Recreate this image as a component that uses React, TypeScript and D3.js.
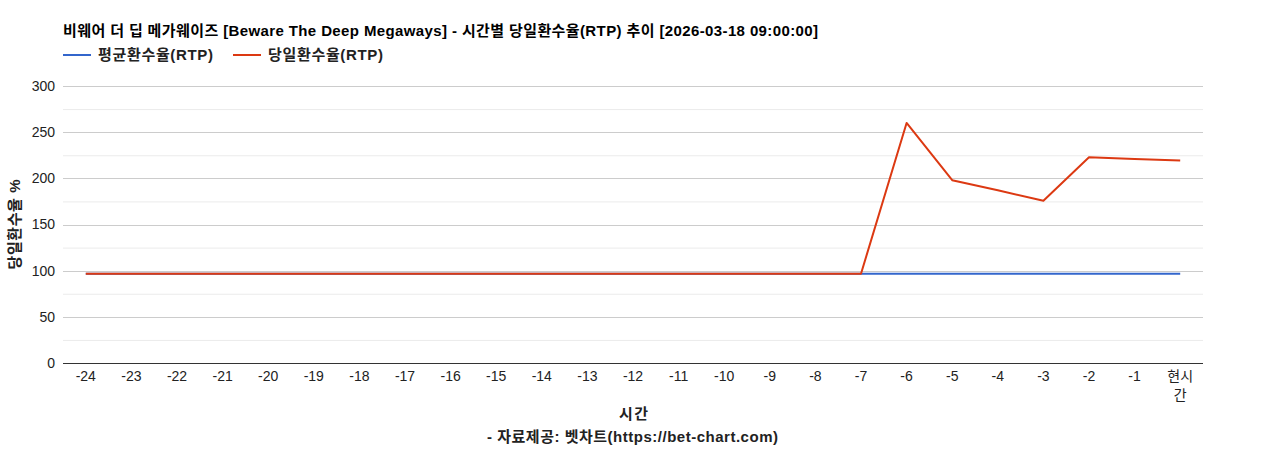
import React, { useEffect, useRef } from 'react';
import * as d3 from 'd3';

const title = '비웨어 더 딥 메가웨이즈 [Beware The Deep Megaways] - 시간별 당일환수율(RTP) 추이 [2026-03-18 09:00:00]';
const hours = [
  '-24', '-23', '-22', '-21', '-20', '-19', '-18', '-17', '-16', '-15', '-14', '-13',
  '-12', '-11', '-10', '-9', '-8', '-7', '-6', '-5', '-4', '-3', '-2', '-1', '현시간',
];
const avgRtp = [
  96.7, 96.7, 96.7, 96.7, 96.7, 96.7, 96.7, 96.7, 96.7, 96.7, 96.7, 96.7,
  96.7, 96.7, 96.7, 96.7, 96.7, 96.7, 96.7, 96.7, 96.7, 96.7, 96.7, 96.7, 96.7,
];
const dailyRtp = [
  96.7, 96.7, 96.7, 96.7, 96.7, 96.7, 96.7, 96.7, 96.7, 96.7, 96.7, 96.7,
  96.7, 96.7, 96.7, 96.7, 96.7, 96.7, 260, 198, 187, 175.8, 222.8, 221, 219.2,
];
const yTicks = [0, 50, 100, 150, 200, 250, 300];
const yMinor = [25, 75, 125, 175, 225, 275];
const seriesNames = ['평균환수율(RTP)', '당일환수율(RTP)'];
const seriesColors = ['#3366cc', '#dc3912'];

const FONT = '"Liberation Sans", Arial, "Noto Sans CJK KR", sans-serif';

export default function App() {
  const svgRef = useRef<SVGSVGElement>(null);

  useEffect(() => {
    if (!svgRef.current) return;
    const svg = d3.select(svgRef.current);
    svg.selectAll('*').remove();

    const margin = { top: 86, right: 65, bottom: 87, left: 63 };
    const W = 1268;
    const H = 450;
    const width = W - margin.left - margin.right;
    const height = H - margin.top - margin.bottom;

    svg.append('rect').attr('width', W).attr('height', H).attr('fill', '#fff');

    const x = d3.scalePoint<string>().domain(hours).range([0, width]).padding(0.5);
    const y = d3.scaleLinear().domain([0, 300]).range([height, 0]);

    const g = svg.append('g').attr('transform', `translate(${margin.left},${margin.top})`);

    // minor gridlines
    g.selectAll('.minor')
      .data(yMinor)
      .join('line')
      .attr('x1', 0)
      .attr('x2', width)
      .attr('y1', (d) => y(d) + 0.5)
      .attr('y2', (d) => y(d) + 0.5)
      .attr('stroke', '#ebebeb');

    // major gridlines + labels
    const yAxis = g.append('g');
    yAxis.selectAll('line')
      .data(yTicks.filter((d) => d !== 0))
      .join('line')
      .attr('x1', 0)
      .attr('x2', width)
      .attr('y1', (d) => Math.round(y(d)) + 0.5)
      .attr('y2', (d) => Math.round(y(d)) + 0.5)
      .attr('stroke', '#cccccc');
    yAxis.selectAll('text')
      .data(yTicks)
      .join('text')
      .attr('x', -8)
      .attr('y', (d) => y(d))
      .attr('dy', '0.35em')
      .attr('text-anchor', 'end')
      .attr('font-family', FONT)
      .attr('font-size', 14)
      .attr('fill', '#222')
      .text((d) => d);

    // x labels
    const xLabels = g.append('g');
    hours.forEach((h) => {
      const t = xLabels.append('text')
        .attr('x', x(h)!)
        .attr('y', height + 18)
        .attr('text-anchor', 'middle')
        .attr('font-family', FONT)
        .attr('font-size', 14)
        .attr('fill', '#222');
      if (h === '현시간') {
        t.append('tspan').attr('x', x(h)!).text('현시');
        t.append('tspan').attr('x', x(h)!).attr('dy', 19).text('간');
      } else {
        t.text(h);
      }
    });

    // lines
    const line = d3.line<number>()
      .x((_, i) => x(hours[i])!)
      .y((d) => y(d));
    [avgRtp, dailyRtp].forEach((vals, i) => {
      g.append('path')
        .datum(vals)
        .attr('fill', 'none')
        .attr('stroke', seriesColors[i])
        .attr('stroke-width', 2)
        .attr('stroke-linejoin', 'round')
        .attr('d', line);
    });

    // baseline
    g.append('line')
      .attr('x1', 0)
      .attr('x2', width)
      .attr('y1', height + 0.5)
      .attr('y2', height + 0.5)
      .attr('stroke', '#333');

    // title
    svg.append('text')
      .attr('x', 63)
      .attr('y', 36)
      .attr('font-family', FONT)
      .attr('font-size', 15)
      .attr('font-weight', 'bold')
      .attr('fill', '#000')
      .attr('textLength', 755)
      .text(title);

    // legend
    const legendX = [63, 233];
    seriesNames.forEach((name, i) => {
      const lg = svg.append('g').attr('transform', `translate(${legendX[i]},55)`);
      lg.append('line')
        .attr('x1', 0)
        .attr('x2', 28)
        .attr('y1', 0)
        .attr('y2', 0)
        .attr('stroke', seriesColors[i])
        .attr('stroke-width', 2);
      lg.append('text')
        .attr('x', 35)
        .attr('y', 5)
        .attr('font-family', FONT)
        .attr('font-size', 15)
        .attr('font-weight', 'bold')
        .attr('fill', '#222')
        .attr('textLength', 115)
        .text(name);
    });

    // axis titles
    svg.append('text')
      .attr('x', 619)
      .attr('y', 419)
      .attr('font-family', FONT)
      .attr('font-size', 15)
      .attr('font-weight', 'bold')
      .attr('fill', '#222')
      .attr('textLength', 29)
      .text('시간');
    svg.append('text')
      .attr('x', 487)
      .attr('y', 442)
      .attr('font-family', FONT)
      .attr('font-size', 15)
      .attr('font-weight', 'bold')
      .attr('fill', '#222')
      .attr('textLength', 291)
      .text('- 자료제공: 벳차트(https://bet-chart.com)');
    svg.append('text')
      .attr('transform', `translate(20,${margin.top + height / 2}) rotate(-90)`)
      .attr('x', -45)
      .attr('font-family', FONT)
      .attr('font-size', 15)
      .attr('font-weight', 'bold')
      .attr('fill', '#222')
      .attr('textLength', 90)
      .text('당일환수율 %');
  }, []);

  return (
    <div style={{ position: 'absolute', top: 0, left: 0, width: 1268, height: 450, overflow: 'hidden' }}>
      <svg ref={svgRef} width={1268} height={450} style={{ display: 'block' }} />
    </div>
  );
}
